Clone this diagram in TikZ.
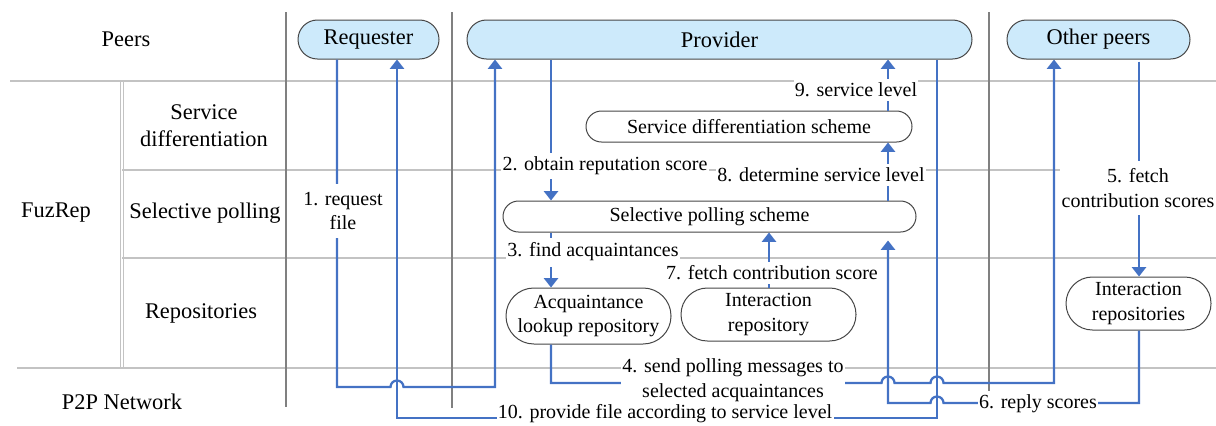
\documentclass[tikz,border=0pt]{standalone}
\usepackage{fontspec}
\setmainfont{Liberation Serif}
\newfontfamily\diagfont{Liberation Serif}
\usetikzlibrary{arrows.meta,calc}
\definecolor{flowblue}{RGB}{68,114,196}
\definecolor{peerfill}{RGB}{205,234,251}
\definecolor{gridgray}{RGB}{195,195,195}
\definecolor{lanegray}{RGB}{128,128,128}
\definecolor{boxedge}{RGB}{70,70,70}
\begin{document}
\begin{tikzpicture}[x=0.75pt,y=-0.75pt,
  font=\diagfont\fontsize{15pt}{18.5pt}\selectfont,
  bigtext/.style={font=\diagfont\fontsize{16.8pt}{20.3pt}\selectfont},
  grid/.style={gridgray,line width=0.8pt},
  lane/.style={lanegray,line width=1.6pt},
  box/.style={draw=boxedge,line width=0.75pt,inner sep=0pt,align=center,fill=white},
  peer/.style={box,bigtext,fill=peerfill,minimum height=29.25pt,rounded corners=14.6pt},
  scheme/.style={box,minimum height=23.25pt,rounded corners=11.6pt},
  link/.style={flowblue,line width=1.7pt},
  arr/.style={link,-{Triangle[width=10.5pt,length=7pt]}},
  lbl/.style={fill=white,inner xsep=1pt,inner ysep=3pt,align=center},
  hdr/.style={bigtext,align=center}
]
\useasboundingbox (0,0) rectangle (1216,425);

% lane columns used by the connectors
\coordinate (x337) at (337,0);
\coordinate (x397) at (397,0);
\coordinate (x495) at (495,0);
\coordinate (x551) at (551,0);
\coordinate (x769) at (769,0);
\coordinate (x888) at (888,0);
\coordinate (x937) at (937,0);
\coordinate (x1054) at (1054,0);
\coordinate (x1139) at (1139,0);

% table rules
\draw[grid] (10,81) -- (1216,81);
\draw[grid] (122,170) -- (1216,170);
\draw[grid] (122,258) -- (1216,258);
\draw[grid] (17,368) -- (1216,368);
\draw[grid] (120.5,81) -- (120.5,368);
\draw[grid] (123.5,81) -- (123.5,368);
\draw[lane] (286,12) -- (286,407);
\draw[lane] (452,12) -- (452,408);
\draw[lane] (989,12) -- (989,408);

% row and column headings
\node[hdr] (hPeers) at (126,39) {Peers};
\node[hdr] (hSdiff) at (204,126) {Service\\differentiation};
\node[hdr] (hFuz) at (56,213) {FuzRep};
\node[hdr] (hSel) at (205,213) {Selective polling};
\node[hdr] (hRepo) at (201,313) {Repositories};
\node[hdr] (hNet) at (122,402) {P2P Network};

% peers
\node[peer,minimum width=105.75pt] (req) at (368.5,39.5) {Requester};
\node[peer,minimum width=378.75pt] (prov) at (719.5,39.5) {Provider};
\node[peer,minimum width=137.25pt] (oth) at (1098.5,39.5) {Other peers};

% schemes and repositories
\node[scheme,minimum width=244.5pt] (sds) at (749,126.5) {Service differentiation scheme};
\node[scheme,minimum width=309.75pt] (sps) at (709.5,216.5) {Selective polling scheme};
\node[box,minimum width=123.75pt,minimum height=42pt,rounded corners=20.9pt] (alr) at (588.5,316) {Acquaintance\\lookup repository};
\node[box,minimum width=131.25pt,minimum height=39.75pt,rounded corners=19.8pt] (ir) at (768.5,314.5) {Interaction\\repository};
\node[box,minimum width=108.75pt,minimum height=39.75pt,rounded corners=19.8pt] (irs) at (1138.5,303.5) {Interaction\\repositories};

% message flow
\draw[arr] (req.south -| x337) |- (390.5,387)
  arc[start angle=180,end angle=360,radius=6.5] -- (495,387) -- (prov.south -| x495);
\draw[arr] (prov.south -| x551) -- (sps.north -| x551);
\draw[arr] (sps.south -| x551) -- (alr.north -| x551);
\draw[arr] (alr.south -| x551) |- (881.5,383)
  arc[start angle=180,end angle=360,radius=6.5] -- (930.5,383)
  arc[start angle=180,end angle=360,radius=6.5] -- (1054,383) -- (oth.south -| x1054);
\draw[arr] ($(oth.south -| x1139)+(0,2)$) -- (irs.north -| x1139);
\draw[arr] (irs.south -| x1139) |- (943.5,403)
  arc[start angle=0,end angle=-180,radius=6.5] -- (888,403) -- ($(sps.south -| x888)+(0,8)$);
\draw[arr] (ir.north -| x769) -- (sps.south -| x769);
\draw[arr] (sps.north -| x888) -- (sds.south -| x888);
\draw[arr] (sds.north -| x888) -- (prov.south -| x888);
\draw[arr] (prov.south -| x937) -- (937,418) -- (397,418) -- (req.south -| x397);

% step labels
\node[lbl,inner ysep=6pt] (t1) at (343,211) {1. request\\file};
\node[lbl] (t2) at (605,166) {2. obtain reputation score};
\node[lbl,inner ysep=4pt] (t3) at (593,252) {3. find acquaintances};
\node[lbl,inner ysep=1pt] (t4) at (733,380) {4. send polling messages to\\selected acquaintances};
\node[lbl,inner ysep=6pt] (t5) at (1138,188) {5. fetch\\contribution scores};
\node[lbl] (t6) at (1038,404) {6. reply scores};
\node[lbl] (t7) at (772,273) {7. fetch contribution score};
\node[lbl] (t8) at (821,175) {8. determine service level};
\node[lbl] (t9) at (856,90) {9. service level};
\node[lbl,inner ysep=1pt] (t10) at (665,414) {10. provide file according to service level};
\end{tikzpicture}
\end{document}
